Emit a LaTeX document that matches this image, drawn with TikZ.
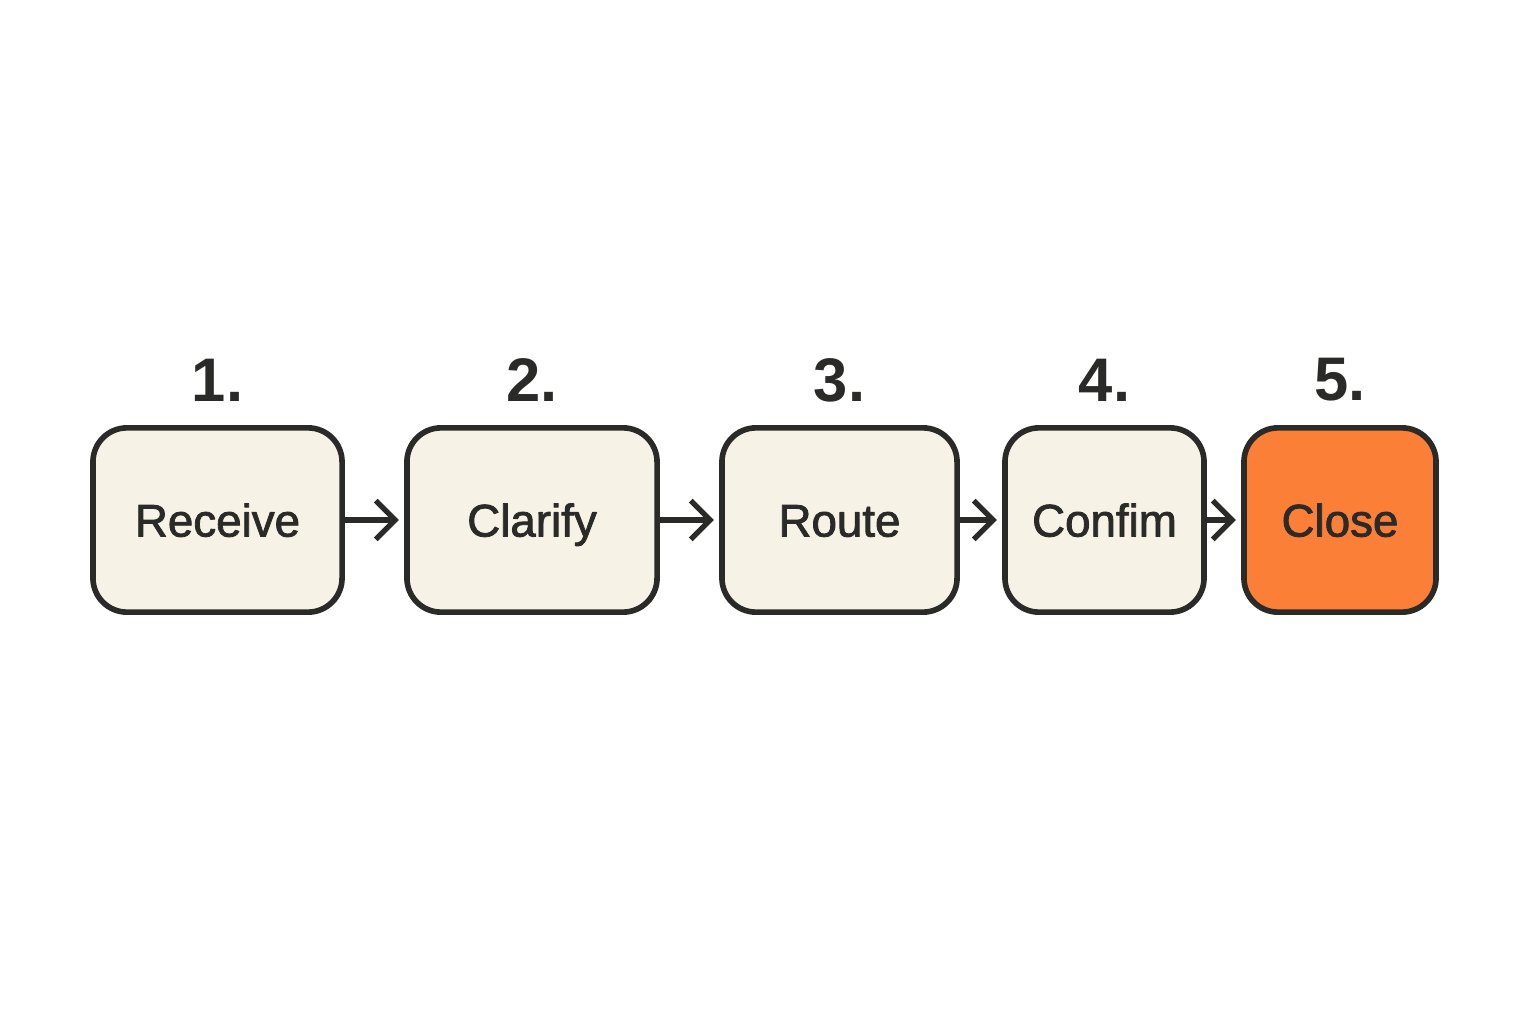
\documentclass[tikz,border=0pt]{standalone}
\usepackage{fontspec}
\setmainfont{Liberation Sans}
\newfontfamily\medfont{Liberation Sans}[FakeBold=1.8]
\usetikzlibrary{arrows.meta}
\definecolor{cream}{HTML}{F6F2E6}
\definecolor{closeorange}{HTML}{FC7F38}
\definecolor{ink}{HTML}{2A2A28}
\begin{document}
\begin{tikzpicture}[x=0.01cm,y=-0.01cm, line join=round, line cap=round,
	stepbox/.style={draw=ink, line width=1.6pt, rounded corners=0.34cm, text=ink,
		minimum height=52.4pt, inner sep=0pt, text height=9.4pt, text depth=0pt,
		font=\medfont\fontsize{13}{15}\selectfont},
	stepnum/.style={text=ink, inner sep=0pt, font=\bfseries\fontsize{17.5}{20}\selectfont},
	flow/.style={draw=ink, line width=1.5pt, shorten >=1.5pt, -{Straight Barb[length=5.5pt,width=11pt]}}]
	\useasboundingbox (0,0) rectangle (1536,1024);
	% steps
	\foreach \n/\cx/\w/\txt/\col in {1/217.5/249/Receive/cream, 2/532/250/Clarify/cream,
			3/839.5/235/Route/cream, 4/1104.5/199/Confim/cream, 5/1340/192/Close/closeorange}{
		\node[stepbox, fill=\col, minimum width={\w*0.2845pt}] (s\n) at (\cx,520) {\txt};
		\node[stepnum] (n\n) at (\cx,380) {\n.};
	}
	% arrows
	\foreach \a/\b in {1/2,2/3,3/4,4/5}
		\draw[flow] (s\a) -- (s\b);
\end{tikzpicture}
\end{document}
